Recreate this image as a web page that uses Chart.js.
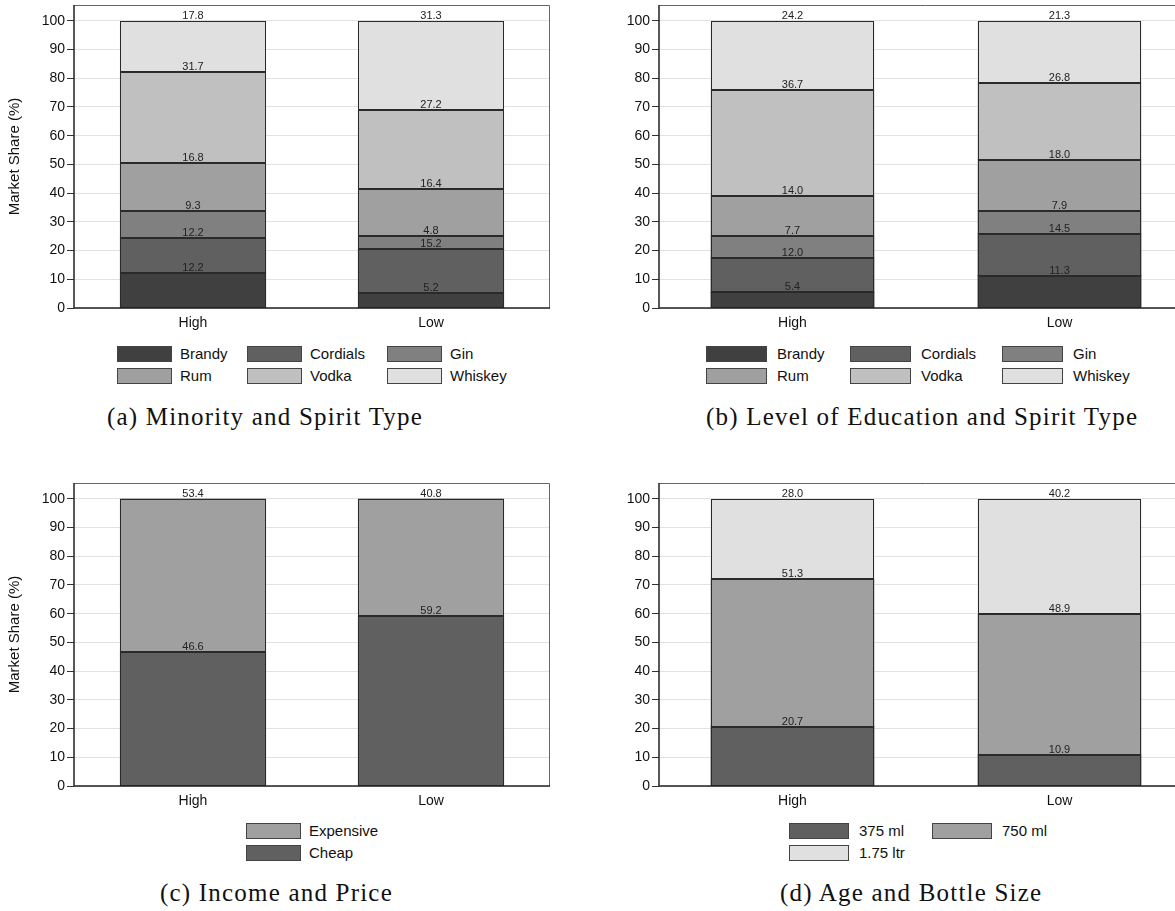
<!DOCTYPE html>
<html>
<head>
<meta charset="utf-8">
<script src="https://cdn.jsdelivr.net/npm/chart.js@4.4.1/dist/chart.umd.min.js"></script>
<style>
html, body { margin: 0; padding: 0; background: #fff; overflow: hidden; width: 1175px; height: 911px; }
canvas { position: absolute; }
.cap { position: absolute; font-family: "Liberation Serif", serif; font-size: 25px; letter-spacing: 1.2px; line-height: 25px; color: #111; white-space: nowrap; }
.lg { position: absolute; font-family: "Liberation Sans", Arial, sans-serif; font-size: 15px; line-height: 16px; color: #111; white-space: nowrap; }
.sw { position: absolute; height: 16px; box-sizing: border-box; border: 1px solid #444; }
</style>
</head>
<body>
<div class="cap" style="left:107px; top:404px;">(a) Minority and Spirit Type</div>
<div class="cap" style="left:706px; top:404px;">(b) Level of Education and Spirit Type</div>
<div class="cap" style="left:160px; top:880px;">(c) Income and Price</div>
<div class="cap" style="left:780px; top:880px;">(d) Age and Bottle Size</div>
<script>
// categories
var groups = ['High', 'Low'];

// (a) and (b): spirit type
var spirits = ['Brandy', 'Cordials', 'Gin', 'Rum', 'Vodka', 'Whiskey'];
var spiritColors = ['#404040', '#606060', '#808080', '#a0a0a0', '#c0c0c0', '#e0e0e0'];
var minorityHigh = [12.2, 12.2, 9.3, 16.8, 31.7, 17.8];
var minorityLow = [5.2, 15.2, 4.8, 16.4, 27.2, 31.3];
var educationHigh = [5.4, 12.0, 7.7, 14.0, 36.7, 24.2];
var educationLow = [11.3, 14.5, 7.9, 18.0, 26.8, 21.3];

// (c): price
var prices = ['Cheap', 'Expensive'];
var priceColors = ['#606060', '#a0a0a0'];
var incomeHigh = [46.6, 53.4];
var incomeLow = [59.2, 40.8];

// (d): bottle size
var sizes = ['375 ml', '750 ml', '1.75 ltr'];
var sizeColors = ['#606060', '#a0a0a0', '#e0e0e0'];
var ageHigh = [20.7, 51.3, 28.0];
var ageLow = [10.9, 48.9, 40.2];

var yTicks = [0, 10, 20, 30, 40, 50, 60, 70, 80, 90, 100];

function buildDatasets(names, colors, high, low) {
    var out = [];
    for (var i = 0; i < names.length; i++) {
        out.push({
            label: names[i],
            data: [high[i], low[i]],
            backgroundColor: colors[i],
            borderWidth: 0,
            inflateAmount: 0.5,
            categoryPercentage: 1,
            barPercentage: 0.61
        });
    }
    return out;
}

// crisp outline round every segment (positions come from the bar elements)
var outlines = {
    id: 'outlines',
    afterDatasetsDraw: function(chart) {
        var ctx = chart.ctx;
        ctx.save();
        ctx.strokeStyle = '#2a2a2a';
        ctx.lineWidth = 1;
        chart.data.datasets.forEach(function(ds, i) {
            chart.getDatasetMeta(i).data.forEach(function(el) {
                var x0 = Math.round(el.x - el.width / 2) + 0.5;
                var x1 = Math.round(el.x + el.width / 2) - 0.5;
                var y0 = Math.round(el.y) + 0.5;
                var y1 = Math.round(el.base) - 0.5;
                ctx.strokeRect(x0, y0, x1 - x0, y1 - y0);
            });
        });
        ctx.restore();
    }
};

// value written just above the top edge of every segment
var valueLabels = {
    id: 'valueLabels',
    afterDatasetsDraw: function(chart) {
        var ctx = chart.ctx;
        ctx.save();
        ctx.font = '11px "Liberation Sans", Arial, sans-serif';
        ctx.fillStyle = '#222';
        ctx.textAlign = 'center';
        ctx.textBaseline = 'bottom';
        chart.data.datasets.forEach(function(ds, i) {
            chart.getDatasetMeta(i).data.forEach(function(el, j) {
                ctx.fillText(ds.data[j].toFixed(1), el.x, Math.round(el.y));
            });
        });
        ctx.restore();
    }
};

// box round the plot region
var frame = {
    id: 'frame',
    afterDatasetsDraw: function(chart) {
        var a = chart.chartArea, ctx = chart.ctx;
        ctx.save();
        ctx.strokeStyle = '#666';
        ctx.lineWidth = 1;
        ctx.beginPath();
        ctx.moveTo(a.left, a.top + 0.5);
        ctx.lineTo(a.right - 0.5, a.top + 0.5);
        ctx.lineTo(a.right - 0.5, a.bottom);
        ctx.stroke();
        ctx.strokeStyle = '#222';
        ctx.lineWidth = 1.5;
        ctx.beginPath();
        ctx.moveTo(a.left, a.top);
        ctx.lineTo(a.left, a.bottom);
        ctx.lineTo(a.right, a.bottom);
        ctx.stroke();
        ctx.restore();
    }
};

function makeChart(left, top, width, height, yWidth, padRight, datasets, withTitle) {
    var canvas = document.createElement('canvas');
    canvas.width = width;
    canvas.height = height;
    canvas.style.left = left + 'px';
    canvas.style.top = top + 'px';
    canvas.style.width = width + 'px';
    canvas.style.height = height + 'px';
    document.body.appendChild(canvas);

    return new Chart(canvas.getContext('2d'), {
        type: 'bar',
        data: { labels: groups, datasets: datasets },
        plugins: [outlines, frame, valueLabels],
        options: {
            responsive: false,
            animation: false,
            devicePixelRatio: 1,
            layout: { padding: { top: 5, right: padRight, left: 0, bottom: 0 } },
            plugins: { legend: { display: false }, tooltip: { enabled: false } },
            scales: {
                x: {
                    stacked: true,
                    grid: { display: false, drawTicks: false },
                    border: { display: false },
                    ticks: { color: '#111', padding: 7, font: { family: '"Liberation Sans", Arial, sans-serif', size: 14 } },
                    afterFit: function(s) { s.height = 32; s.paddingLeft = 0; s.paddingRight = 0; }
                },
                y: {
                    stacked: true,
                    min: 0,
                    max: 105.5,
                    afterBuildTicks: function(s) {
                        s.ticks = yTicks.map(function(v) { return { value: v }; });
                    },
                    grid: { color: '#e2e2e2', tickColor: '#333', tickLength: 7, lineWidth: 1 },
                    border: { display: false },
                    ticks: { color: '#111', padding: 2, font: { family: '"Liberation Sans", Arial, sans-serif', size: 14 } },
                    title: {
                        display: withTitle,
                        text: 'Market Share (%)',
                        color: '#111',
                        padding: { top: 6, bottom: 0 },
                        font: { family: '"Liberation Sans", Arial, sans-serif', size: 15 }
                    },
                    afterFit: function(s) { s.width = yWidth; s.paddingTop = 0; s.paddingBottom = 0; }
                }
            }
        }
    });
}

function makeLegend(names, colors, order, cols, rowTops, boxW, labelGap) {
    order.forEach(function(idx, k) {
        var col = k % cols.length;
        var row = Math.floor(k / cols.length);
        var sw = document.createElement('div');
        sw.className = 'sw';
        sw.style.left = cols[col] + 'px';
        sw.style.top = rowTops[row] + 'px';
        sw.style.width = boxW + 'px';
        sw.style.background = colors[idx];
        document.body.appendChild(sw);
        var tx = document.createElement('div');
        tx.className = 'lg';
        tx.style.left = (cols[col] + labelGap) + 'px';
        tx.style.top = rowTops[row] + 'px';
        tx.textContent = names[idx];
        document.body.appendChild(tx);
    });
}

makeChart(0, 0, 560, 340, 74, 10, buildDatasets(spirits, spiritColors, minorityHigh, minorityLow), true);
makeChart(615, 0, 580, 340, 44, 2, buildDatasets(spirits, spiritColors, educationHigh, educationLow), false);
makeChart(0, 478, 560, 340, 74, 10, buildDatasets(prices, priceColors, incomeHigh, incomeLow), true);
makeChart(615, 478, 580, 340, 44, 2, buildDatasets(sizes, sizeColors, ageHigh, ageLow), false);

makeLegend(spirits, spiritColors, [0, 1, 2, 3, 4, 5], [117, 247, 387], [346, 368], 55, 63);
makeLegend(spirits, spiritColors, [0, 1, 2, 3, 4, 5], [706, 850, 1002], [346, 368], 61, 71);
makeLegend(prices, priceColors, [1, 0], [246], [823, 845], 55, 63);
makeLegend(sizes, sizeColors, [0, 1, 2], [789, 932], [823, 845], 60, 70);
</script>
</body>
</html>
